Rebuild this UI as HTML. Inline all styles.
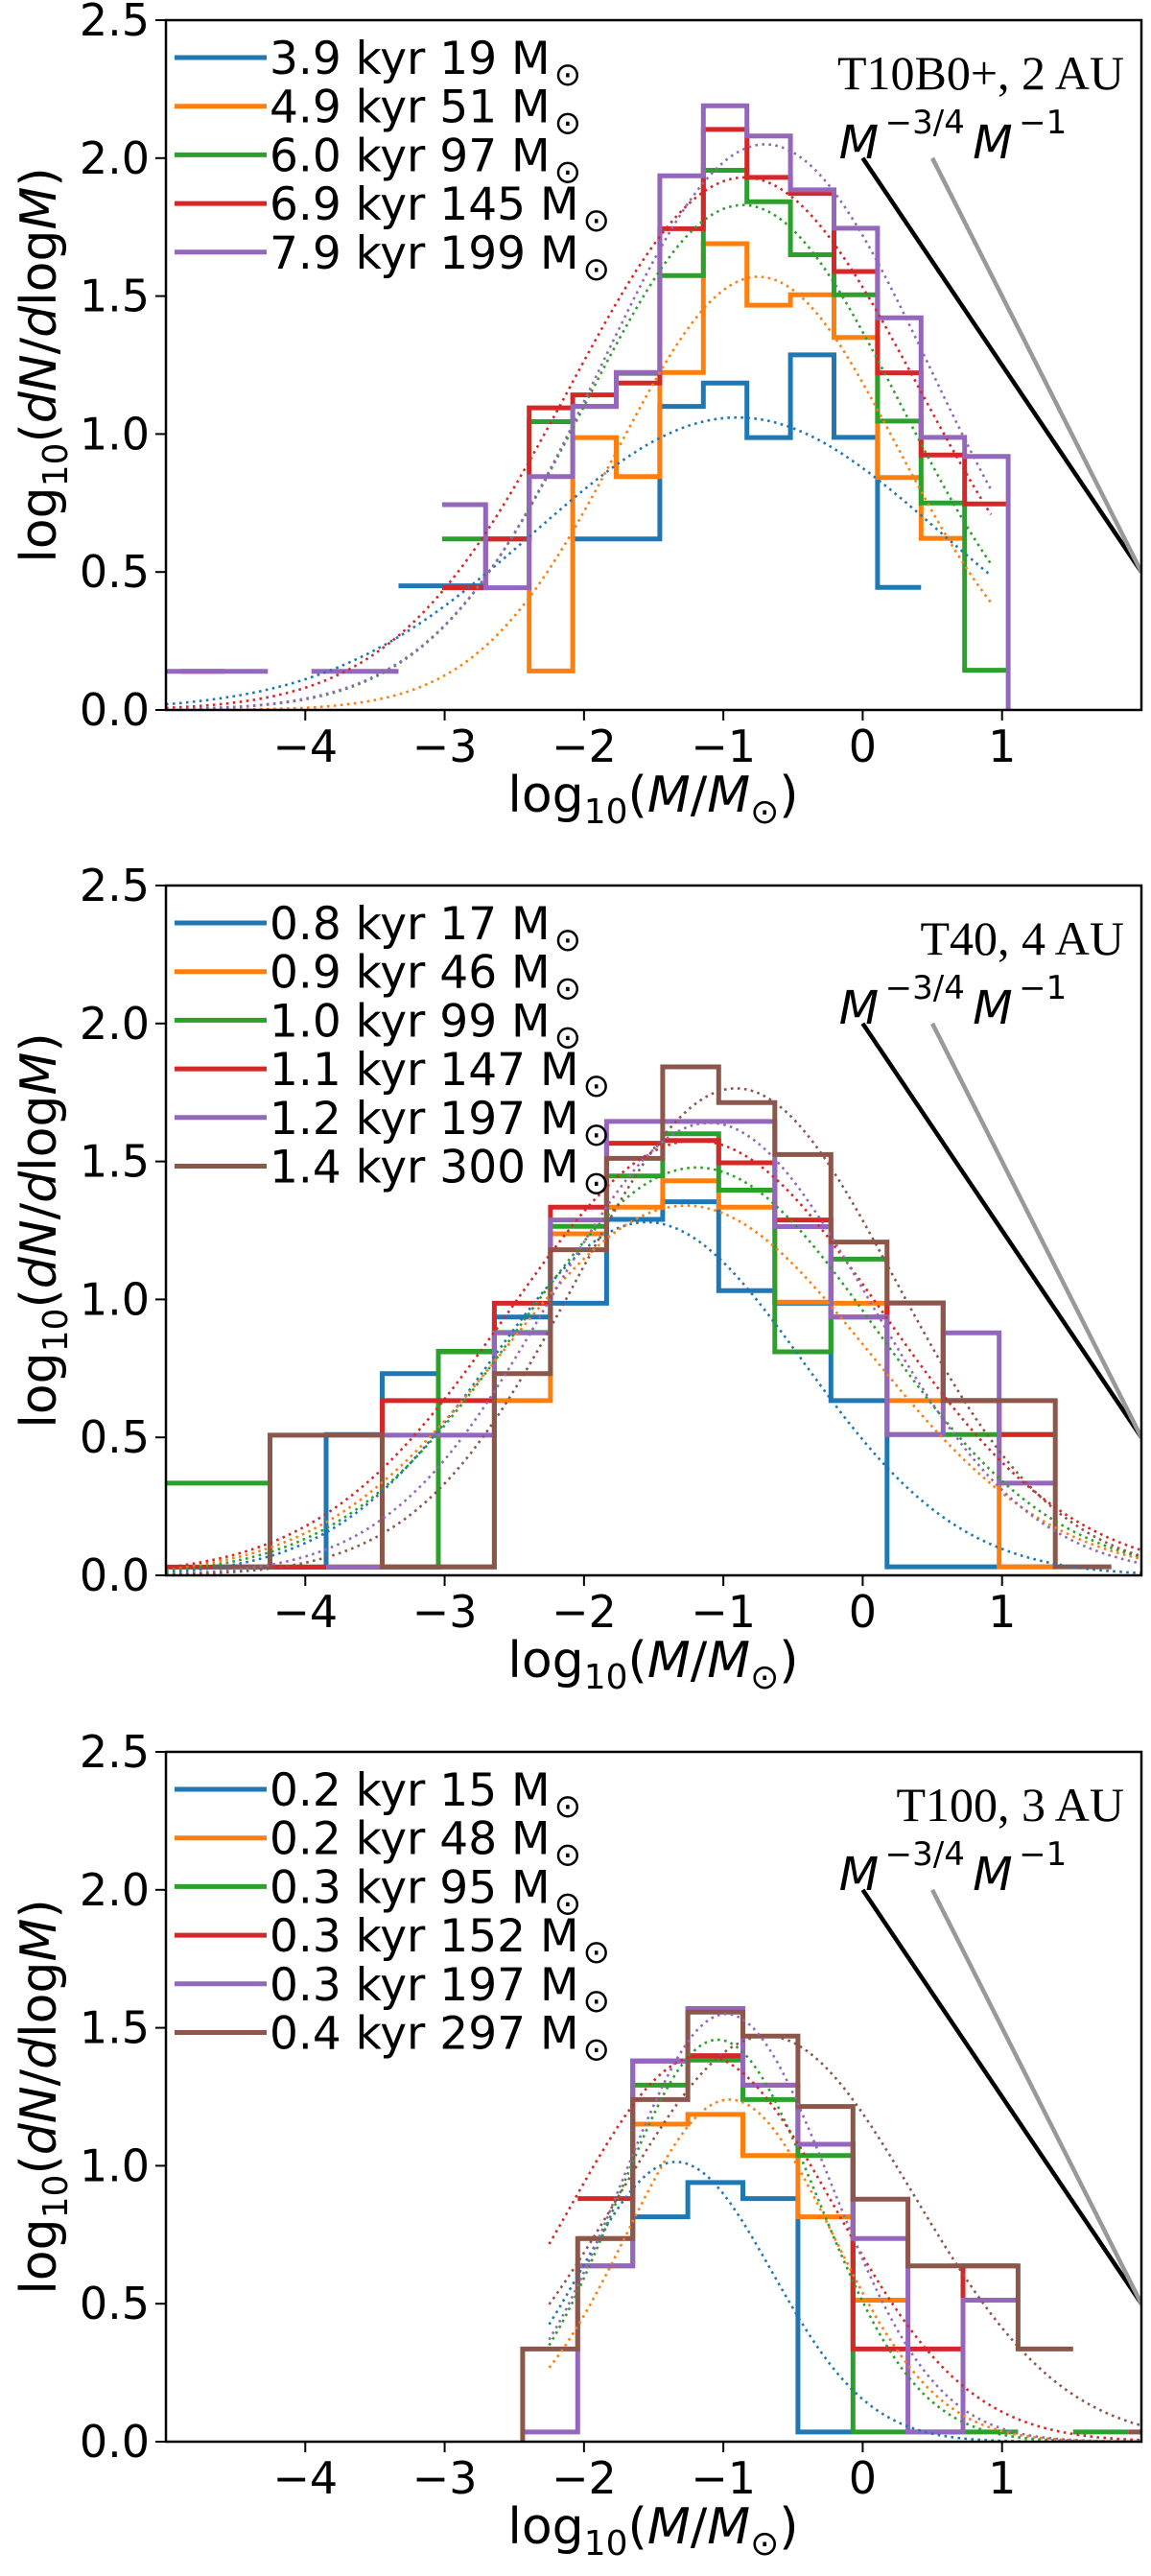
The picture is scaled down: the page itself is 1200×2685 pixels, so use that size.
<!DOCTYPE html>
<html><head><meta charset="utf-8"><style>
html,body{margin:0;padding:0;background:#fff;overflow:hidden;width:1200px;height:2685px;}
svg{display:block;font-family:"DejaVu Sans","Liberation Sans",sans-serif;}
</style></head><body>
<svg id="fig" xmlns="http://www.w3.org/2000/svg" width="1200" height="2685" viewBox="0 0 1200 2685" overflow="hidden"></svg>
<script>
// ---------- data ----------
const colors = ["#1f77b4","#ff7f0e","#2ca02c","#d62728","#9467bd","#8c564b"];
const xTicks = [-4,-3,-2,-1,0,1];
const yTicks = [0.0,0.5,1.0,1.5,2.0,2.5];
const yTickLabels = ["0.0","0.5","1.0","1.5","2.0","2.5"];

const p1Title = "T10B0+, 2 AU";
const p1Labels = ["3.9 kyr 19 M","4.9 kyr 51 M","6.0 kyr 97 M","6.9 kyr 145 M","7.9 kyr 199 M"];
const p1Edge0 = -5.206, p1Width = 0.3125;
const p1Blue   = [null,null,null,null,null,null,.45,.45,null,null,.62,.62,1.10,1.185,.987,1.287,.988,.444];
const p1Orange = [null,null,null,null,null,null,null,null,.62,.141,.987,.846,1.223,1.69,1.467,1.505,1.35,.842,.622];
const p1Green  = [null,null,null,null,null,null,null,.62,.62,1.045,1.10,1.22,1.574,1.956,1.842,1.65,1.505,1.047,.75,.144];
const p1Red    = [null,.14,null,null,null,null,null,.443,.62,1.095,1.142,1.185,1.744,2.104,1.93,1.872,1.589,1.222,.924,.747];
const p1Purple = [.14,.14,.14,null,.14,.14,null,.744,.443,.846,1.10,1.223,1.936,2.19,2.08,1.885,1.746,1.421,.988,.919,-1];
const p1FitAmp = [1.06,1.57,1.83,1.93,2.05];
const p1FitMu  = [-0.9,-0.75,-0.86,-0.85,-0.70];
const p1FitSig = [1.46,1.0,1.13,1.25,1.18];
const p1FitRange = [-5,0.92];

const p2Title = "T40, 4 AU";
const p2Labels = ["0.8 kyr 17 M","0.9 kyr 46 M","1.0 kyr 99 M","1.1 kyr 147 M","1.2 kyr 197 M","1.4 kyr 300 M"];
const p2Edge0 = -5.058, p2Width = 0.4025;
const p2Blue   = [null,null,.03,.51,.731,.81,.936,.986,1.29,1.354,1.032,.986,.633,.031,.031,.031];
const p2Orange = [null,null,.03,.03,.03,.03,.633,1.238,1.334,1.43,1.334,.99,.986,.633,.633,.031];
const p2Green  = [.334,.334,.03,.03,.03,.812,.88,1.265,1.447,1.6,1.396,.81,1.146,.51,.51,.51];
const p2Red    = [.03,.03,.03,.03,.633,.633,.986,1.334,1.566,1.576,1.495,1.288,.936,.987,.633,.51];
const p2Purple = [null,null,null,.03,.508,.508,.879,1.288,1.645,1.645,1.645,1.264,.936,.51,.879,.334];
const p2Brown  = [null,.031,.508,.508,.031,.031,.731,1.18,1.511,1.843,1.713,1.525,1.208,.987,.633,.633,.031];
const p2FitAmp = [1.28,1.34,1.478,1.576,1.64,1.765];
const p2FitMu  = [-1.55,-1.27,-1.19,-1.2,-1.1,-0.91];
const p2FitSig = [1.12,1.31,1.28,1.34,1.15,1.144];
const p2FitRange = [-5,2];

const p3Title = "T100, 3 AU";
const p3Labels = ["0.2 kyr 15 M","0.2 kyr 48 M","0.3 kyr 95 M","0.3 kyr 152 M","0.3 kyr 197 M","0.4 kyr 297 M"];
const p3Edge0 = -2.835, p3Width = 0.395;
const p3Blue   = [null,null,null,.815,.939,.881,.035];
const p3Orange = [null,null,.736,1.151,1.186,1.037,.815,.513];
const p3Green  = [null,null,.637,1.292,1.383,1.24,1.037,.035,.035,.035,null,.035];
const p3Red    = [null,null,.881,1.38,1.399,1.292,1.078,.336,.336,.637];
const p3Purple = [null,.035,.637,1.379,1.57,1.292,1.078,.736,.035,.513];
const p3Brown  = [-1,.336,.736,1.24,1.557,1.47,1.215,.879,.637,.637,.336,null,.035];
const p3FitAmp = [1.014,1.24,1.457,1.40,1.55,1.47];
const p3FitMu  = [-1.34,-0.955,-1.04,-1.15,-0.98,-0.69];
const p3FitSig = [0.69,0.74,0.716,0.95,0.75,1.06];
const p3FitRange = [-2.25,2];

const slopeBlack = [[0,2.0],[2,0.5]];
const slopeGray  = [[0.5,2.0],[2,0.5]];

// ---------- layout ----------
const NS = "http://www.w3.org/2000/svg";
const svg = document.getElementById("fig");
const L = 173, R = 1190, H = 719;
const XMIN = -5, XMAX = 2, YMIN = 0, YMAX = 2.5;
function mk(tag, attrs, parent){ const e=document.createElementNS(NS,tag); for(const k in attrs) e.setAttribute(k,attrs[k]); (parent||svg).appendChild(e); return e; }

const panels = [
  {top:21, title:p1Title, labels:p1Labels, e0:p1Edge0, w:p1Width, series:[p1Blue,p1Orange,p1Green,p1Red,p1Purple], amp:p1FitAmp, mu:p1FitMu, sig:p1FitSig, range:p1FitRange},
  {top:923, title:p2Title, labels:p2Labels, e0:p2Edge0, w:p2Width, series:[p2Blue,p2Orange,p2Green,p2Red,p2Purple,p2Brown], amp:p2FitAmp, mu:p2FitMu, sig:p2FitSig, range:p2FitRange},
  {top:1826, title:p3Title, labels:p3Labels, e0:p3Edge0, w:p3Width, series:[p3Blue,p3Orange,p3Green,p3Red,p3Purple,p3Brown], amp:p3FitAmp, mu:p3FitMu, sig:p3FitSig, range:p3FitRange}
];

panels.forEach((P, pi) => {
  const T = P.top, B = T + H;
  const sx = x => L + (x - XMIN) / (XMAX - XMIN) * (R - L);
  const sy = y => B - (y - YMIN) / (YMAX - YMIN) * H;
  const g = mk("g", {});
  
  
  const clip = mk("clipPath", {id:"clip"+pi}, g);
  mk("rect", {x:L, y:T, width:R-L, height:H}, clip);
  const plot = mk("g", {"clip-path":"url(#clip"+pi+")"}, g);

  P.series.forEach((vals, si) => {
    let d = "", prev = null;
    vals.forEach((v, k) => {
      const x0 = sx(P.e0 + k*P.w), x1 = sx(P.e0 + (k+1)*P.w);
      if (v === null) { prev = null; return; }
      if (prev === null) d += "M" + x0.toFixed(1) + "," + sy(v).toFixed(1);
      else d += "L" + x0.toFixed(1) + "," + sy(v).toFixed(1);
      d += "L" + x1.toFixed(1) + "," + sy(v).toFixed(1);
      prev = v;
    });
    const p = mk("path", {d:d, fill:"none", stroke:colors[si], "stroke-width":5, "stroke-linejoin":"miter"}, plot);
    
    
  });
  P.amp.forEach((A, si) => {
    let d = "";
    const n = 200;
    for (let i = 0; i <= n; i++) {
      const x = P.range[0] + (P.range[1]-P.range[0]) * i / n;
      const y = A * Math.exp(-Math.pow(x - P.mu[si], 2) / (2 * P.sig[si] * P.sig[si]));
      d += (i ? "L" : "M") + sx(x).toFixed(1) + "," + sy(y).toFixed(1);
    }
    const p = mk("path", {d:d, fill:"none", stroke:colors[si], "stroke-width":2.6, "stroke-dasharray":"2.6,4.4"}, plot);
    
    
  });
  const lb = mk("line", {x1:sx(slopeBlack[0][0]), y1:sy(slopeBlack[0][1]), x2:sx(slopeBlack[1][0]), y2:sy(slopeBlack[1][1]), stroke:"#000", "stroke-width":4.5}, plot);
  
  
  const lg = mk("line", {x1:sx(slopeGray[0][0]), y1:sy(slopeGray[0][1]), x2:sx(slopeGray[1][0]), y2:sy(slopeGray[1][1]), stroke:"#999", "stroke-width":4.5}, plot);
  
  

  const t1 = mk("text", {x:sx(-0.17), y:sy(2.0), "font-size":48, "font-style":"italic"}, g);
  t1.textContent = "M";
  
  
  const t1s = mk("text", {x:sx(0.16), y:sy(2.0)-26, "font-size":34}, g);
  t1s.textContent = "\u22123/4";
  
  
  const t2 = mk("text", {x:sx(0.79), y:sy(2.0), "font-size":48, "font-style":"italic"}, g);
  t2.textContent = "M";
  
  
  const t2s = mk("text", {x:sx(1.12), y:sy(2.0)-26, "font-size":34}, g);
  t2s.textContent = "\u22121";
  
  

  const fr = mk("rect", {x:L, y:T, width:R-L, height:H, fill:"none", stroke:"#000", "stroke-width":2.5}, g);
  
  

  xTicks.forEach(v => {
    const x = sx(v);
    mk("line", {x1:x, y1:B, x2:x, y2:B+11, stroke:"#000", "stroke-width":2}, g);
    const t = mk("text", {x:x, y:B+54, "font-size":46, "text-anchor":"middle"}, g);
    t.textContent = (v < 0 ? "\u2212" + Math.abs(v) : String(v));
    
    
  });
  yTicks.forEach((v, i) => {
    const y = sy(v);
    mk("line", {x1:L-11, y1:y, x2:L, y2:y, stroke:"#000", "stroke-width":2}, g);
    const t = mk("text", {x:L-17, y:y+16, "font-size":46, "text-anchor":"end"}, g);
    t.textContent = yTickLabels[i];
    
    
  });

  const xl = mk("text", {x:681, y:B+106, "font-size":52, "text-anchor":"middle"}, g);
  xl.innerHTML = 'log<tspan font-size="36" dy="12">10</tspan><tspan dy="-12">(</tspan><tspan font-style="italic">M</tspan>/<tspan font-style="italic">M</tspan><tspan font-size="36" dy="12">\u2299</tspan><tspan dy="-12">)</tspan>';
  
  
  const cy = (T + B) / 2;
  const yl = mk("text", {x:0, y:0, "font-size":52, "text-anchor":"middle", transform:"translate(58," + cy + ") rotate(-90)"}, g);
  yl.innerHTML = 'log<tspan font-size="36" dy="12">10</tspan><tspan dy="-12">(</tspan><tspan font-style="italic">dN</tspan>/<tspan font-style="italic">d</tspan>log<tspan font-style="italic">M</tspan>)';
  
  

  const tt = mk("text", {x:1172, y:T+72, "font-size":50, "text-anchor":"end", "font-family":"Liberation Serif, serif"}, g);
  tt.textContent = P.title;
  
  

  P.labels.forEach((lab, i) => {
    const y = T + 39 + i * 50.7;
    const ln = mk("line", {x1:182, y1:y, x2:278, y2:y, stroke:colors[i], "stroke-width":5}, g);
    
    
    const t = mk("text", {x:281, y:y+17, "font-size":47}, g);
    t.innerHTML = lab + '<tspan font-size="34" dx="4" dy="12">\u2299</tspan>';
    
    
  });
});
</script>
</body></html>
